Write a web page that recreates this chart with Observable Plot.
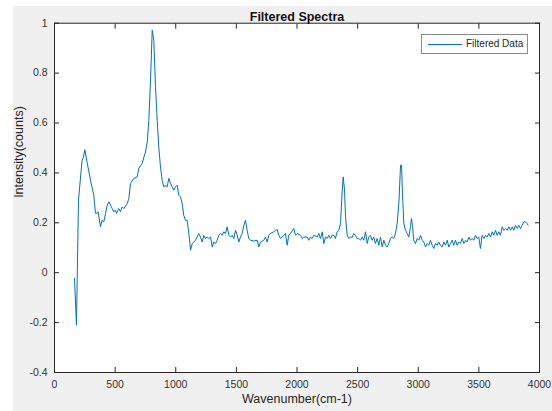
<!DOCTYPE html>
<html><head><meta charset="utf-8">
<script src="https://cdn.jsdelivr.net/npm/d3@7"></script>
<script src="https://cdn.jsdelivr.net/npm/@observablehq/plot@0.6"></script>
<style>
html,body{margin:0;padding:0;background:#fff;}
#wrap{position:relative;width:552px;height:411px;overflow:hidden;}
#chart{position:absolute;left:13px;top:6px;}
#legend{position:absolute;left:421px;top:34px;width:107px;height:20px;background:#fff;border:1px solid #8a8a8a;box-sizing:border-box;font:10px "Liberation Sans",Arial,sans-serif;color:#262626;}
#legend .sw{position:absolute;left:6px;top:9px;width:34px;height:0;border-top:1px solid #0072BD;}
#legend .lab{position:absolute;left:44px;top:3px;line-height:12px;white-space:nowrap;}
</style></head>
<body>
<div id="wrap"><div id="chart"></div>
<div id="legend"><div class="sw"></div><div class="lab">Filtered Data</div></div></div>
<script>
const titleText = "Filtered Spectra";
const xLabel = "Wavenumber(cm-1)";
const yLabel = "Intensity(counts)";
const seriesName = "Filtered Data";
const xTicks = [0,500,1000,1500,2000,2500,3000,3500,4000];
const yTicks = [-0.4,-0.2,0,0.2,0.4,0.6,0.8,1];

const wavenumber = [
165,181,198,220,228,239,250,270,297,324,
338,352,360,379,393,407,421,435,448,462,
476,489,503,511,530,544,558,572,600,613,
627,654,682,695,723,750,765,778,792,806,
819,833,847,860,874,888,901,915,929,943,
957,971,984,998,1012,1025,1039,1053,1066,1080,
1094,1108,1122,1136,1149,1163,1190,1204,1218,1231,
1245,1259,1273,1287,1301,1314,1328,1342,1355,1369,
1383,1397,1410,1424,1438,1452,1466,1479,1493,1507,
1520,1534,1548,1561,1575,1589,1602,1616,1644,1672,
1685,1699,1726,1740,1754,1767,1781,1809,1823,1837,
1850,1864,1878,1891,1905,1919,1932,1946,1974,1988,
2002,2029,2043,2056,2084,2097,2111,2125,2139,2167,
2180,2194,2208,2221,2235,2249,2262,2276,2290,2304,
2317,2331,2345,2359,2373,2381,2392,2400,2414,2427,
2441,2455,2468,2482,2496,2510,2524,2538,2551,2565,
2579,2592,2606,2620,2633,2647,2661,2675,2689,2703,
2716,2730,2744,2757,2771,2785,2798,2812,2826,2840,
2854,2862,2870,2881,2895,2909,2922,2936,2944,2953,
2963,2977,2991,3005,3019,3033,3046,3060,3074,3087,
3101,3115,3128,3142,3156,3169,3183,3197,3211,3225,
3239,3252,3266,3280,3293,3307,3321,3334,3348,3362,
3376,3390,3404,3417,3431,3445,3458,3472,3486,3499,
3513,3527,3541,3555,3569,3582,3596,3610,3623,3637,
3651,3664,3678,3692,3706,3720,3734,3747,3761,3775,
3788,3802,3816,3829,3843,3857,3871,3884,3898,3906];

const intensity = [
-0.022,-0.210,0.291,0.411,0.451,0.463,0.493,0.439,0.371,0.311,
0.238,0.238,0.244,0.184,0.210,0.204,0.237,0.271,0.284,0.271,
0.257,0.244,0.251,0.237,0.257,0.244,0.264,0.257,0.277,0.297,
0.358,0.378,0.384,0.418,0.438,0.484,0.524,0.611,0.772,0.972,
0.932,0.745,0.611,0.504,0.424,0.371,0.344,0.351,0.344,0.378,
0.358,0.344,0.331,0.344,0.351,0.311,0.304,0.277,0.230,0.210,
0.210,0.157,0.090,0.117,0.123,0.130,0.157,0.143,0.123,0.150,
0.137,0.143,0.137,0.143,0.103,0.123,0.117,0.130,0.150,0.157,
0.150,0.164,0.157,0.184,0.150,0.143,0.150,0.137,0.170,0.150,
0.123,0.143,0.157,0.190,0.210,0.170,0.137,0.130,0.127,0.130,
0.103,0.123,0.130,0.143,0.123,0.150,0.157,0.164,0.170,0.173,
0.150,0.137,0.143,0.150,0.157,0.110,0.150,0.157,0.177,0.150,
0.157,0.150,0.137,0.143,0.143,0.130,0.143,0.137,0.150,0.143,
0.157,0.137,0.164,0.117,0.143,0.137,0.150,0.137,0.150,0.150,
0.137,0.164,0.170,0.197,0.331,0.384,0.331,0.224,0.150,0.137,
0.143,0.141,0.157,0.150,0.137,0.137,0.130,0.143,0.130,0.164,
0.117,0.143,0.150,0.130,0.143,0.117,0.137,0.110,0.143,0.103,
0.130,0.110,0.103,0.117,0.137,0.143,0.137,0.157,0.197,0.277,
0.431,0.431,0.317,0.197,0.170,0.157,0.143,0.184,0.217,0.184,
0.130,0.117,0.137,0.130,0.150,0.130,0.123,0.103,0.117,0.110,
0.130,0.110,0.097,0.117,0.110,0.123,0.110,0.103,0.123,0.110,
0.130,0.103,0.117,0.130,0.110,0.130,0.110,0.123,0.117,0.137,
0.117,0.130,0.123,0.143,0.130,0.137,0.130,0.150,0.137,0.143,
0.097,0.150,0.137,0.150,0.143,0.157,0.143,0.164,0.150,0.170,
0.150,0.164,0.150,0.184,0.170,0.177,0.170,0.184,0.170,0.184,
0.170,0.190,0.177,0.190,0.177,0.190,0.204,0.204,0.197,0.190];

const font = '"Liberation Sans", Arial, Helvetica, sans-serif';
const axisColor = "#262626";
const yFmt = d => String(+d.toFixed(1));
const blank = () => "";

const chart = Plot.plot({
  width: 539,
  height: 405,
  marginLeft: 41,
  marginRight: 13,
  marginTop: 16.7,
  marginBottom: 39,
  style: {background: "#f0f0f0", fontFamily: font, fontSize: "10.5px", color: axisColor},
  x: {domain: [0, 4000]},
  y: {domain: [-0.4, 1]},
  marks: [
    Plot.frame({fill: "white", stroke: null}),
    Plot.line(intensity, {x: wavenumber, y: intensity, stroke: "#0072BD", strokeWidth: 1}),
    Plot.frame({stroke: axisColor, strokeWidth: 1}),
    Plot.axisX(xTicks, {anchor: "bottom", tickSize: -5, tickFormat: blank, label: null, stroke: axisColor}),
    Plot.axisX(xTicks, {anchor: "top", tickSize: -5, tickFormat: blank, label: null, stroke: axisColor}),
    Plot.axisY(yTicks, {anchor: "left", tickSize: -5, tickFormat: blank, label: null, stroke: axisColor}),
    Plot.axisY(yTicks, {anchor: "right", tickSize: -5, tickFormat: blank, label: null, stroke: axisColor}),
    Plot.axisX(xTicks, {anchor: "bottom", tickSize: 0, tickPadding: 8, tickFormat: d => String(d), label: null, fill: "#333", fontSize: 10.5}),
    Plot.axisY(yTicks, {anchor: "left", tickSize: 0, tickPadding: 7, tickFormat: yFmt, label: null, fill: "#333", fontSize: 10.5}),
    Plot.text([xLabel], {text: d => d, frameAnchor: "bottom", dy: 30, fontSize: 12.5, fill: "#262626"}),
    Plot.text([yLabel], {text: d => d, frameAnchor: "left", dx: -36, rotate: -90, fontSize: 12.5, fill: "#262626"}),
    Plot.text([titleText], {text: d => d, frameAnchor: "top", dy: -11, fontSize: 12.5, fontWeight: "bold", fill: "#111"})
  ]
});
document.getElementById("chart").appendChild(chart);
document.querySelector("#legend .lab").textContent = seriesName;
</script>
</body></html>
